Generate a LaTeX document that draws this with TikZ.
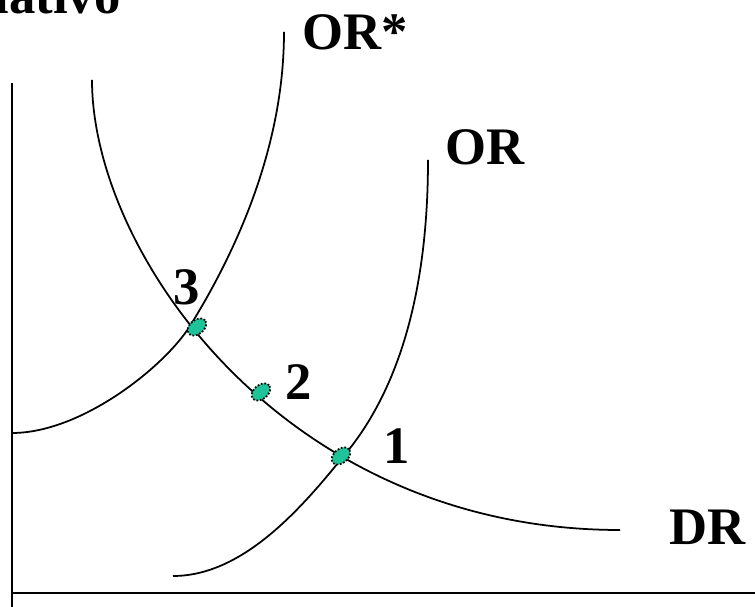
\documentclass[tikz,border=0pt]{standalone}
\usepackage{fontspec}
\setmainfont{Liberation Serif}
\definecolor{puntoverde}{HTML}{1FC39A}
\tikzset{
  curva/.style={black, line width=1pt},
  eje/.style={black, line width=1.1pt},
  etiqueta/.style={font=\fontsize{30}{34}\selectfont\bfseries, inner sep=0pt, anchor=base west},
  punto/.style={ellipse, draw=black, densely dotted, line width=1pt, fill=puntoverde, minimum width=12pt, minimum height=8pt, inner sep=0pt, rotate=40},
}
\usetikzlibrary{shapes.geometric}
\begin{document}
\begin{tikzpicture}[x=0.02cm, y=-0.02cm]
\useasboundingbox (0,0) rectangle (755,607);
\draw[eje] (12,83) -- (12,607);
\draw[eje] (12,593) -- (755,593);
\draw[curva] (92,80) .. controls (92,253) and (284,530) .. (620,530);
\draw[curva] (12,433) .. controls (82,433) and (165,366) .. (190,326)
  .. controls (242,242) and (284,140) .. (284,32);
\draw[curva] (173,576) .. controls (240,576) and (297,514) .. (342,458)
  .. controls (385,408) and (428,320) .. (428,160);
\node[punto] (p3) at (197,327) {};
\node[punto] (p2) at (261,392) {};
\node[punto] (p1) at (341,456) {};
\node[etiqueta, anchor=base east] (eje y) at (121,14) {lativo};
\node[etiqueta] (orx) at (302,50) {OR*};
\node[etiqueta] (or) at (445,165) {OR};
\node[etiqueta] (dr) at (669,545) {DR};
\node[etiqueta] (n3) at (173,305) {3};
\node[etiqueta] (n2) at (285,400) {2};
\node[etiqueta] (n1) at (383,464) {1};
\end{tikzpicture}
\end{document}
